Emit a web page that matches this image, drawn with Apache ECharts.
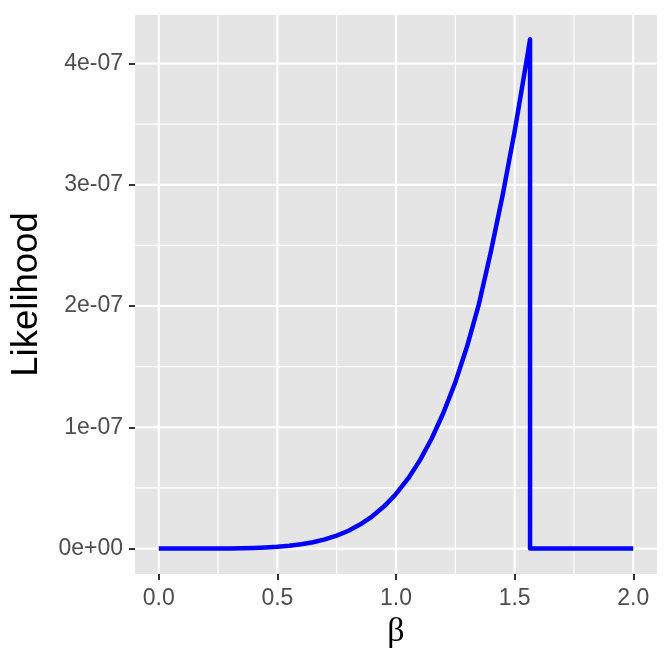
<!DOCTYPE html>
<html>
<head>
<meta charset="utf-8">
<script src="https://cdn.jsdelivr.net/npm/echarts@6/dist/echarts.min.js"></script>
<style>
  html, body { margin: 0; padding: 0; background: #fff; }
  #chart { width: 672px; height: 672px; }
</style>
</head>
<body>
<div id="chart"></div>
<script>
// values (likelihood in absolute units)
const beta = [0, 0.05, 0.1, 0.15, 0.2, 0.25, 0.3, 0.35, 0.4, 0.45, 0.5, 0.55, 0.6, 0.65,
  0.7, 0.75, 0.8, 0.85, 0.9, 0.95, 1.0, 1.05, 1.1, 1.15, 1.2, 1.25, 1.3, 1.35, 1.4,
  1.45, 1.5, 1.55, 1.565, 1.565, 2.0];
const likelihood = [0, 0, 0, 0, 0.0001e-7, 0.0004e-7, 0.0011e-7, 0.0024e-7, 0.0046e-7,
  0.0083e-7, 0.014e-7, 0.023e-7, 0.035e-7, 0.052e-7, 0.076e-7, 0.107e-7, 0.147e-7,
  0.200e-7, 0.266e-7, 0.348e-7, 0.45e-7, 0.574e-7, 0.725e-7, 0.905e-7, 1.12e-7,
  1.37e-7, 1.67e-7, 2.02e-7, 2.45e-7, 2.92e-7, 3.44e-7, 4.02e-7, 4.20e-7, 0, 0];

const xTicks = [0, 0.5, 1.0, 1.5, 2.0];
const xMinor = [0.25, 0.75, 1.25, 1.75];
const yTicks = [0, 1e-7, 2e-7, 3e-7, 4e-7];
const yMinor = [0.5e-7, 1.5e-7, 2.5e-7, 3.5e-7];

const X_MIN = -0.1, X_MAX = 2.1;
const Y_MIN = -0.21e-7, Y_MAX = 4.40e-7;

// panel grid lines as plain two-point line series
const gridSeries = (vals, dir, width) => vals.map(v => ({
  type: 'line',
  silent: true,
  showSymbol: false,
  data: dir === 'x' ? [[v, Y_MIN], [v, Y_MAX]] : [[X_MIN, v], [X_MAX, v]],
  lineStyle: { color: '#ffffff', width: width }
}));

const fmtY = v => {
  if (v === 0) return '0e+00';
  return Math.round(v / 1e-7) + 'e-07';
};

const chart = echarts.init(document.getElementById('chart'), null, { renderer: 'canvas' });
chart.setOption({
  animation: false,
  backgroundColor: '#ffffff',
  textStyle: { fontFamily: 'Liberation Sans' },
  grid: {
    left: 135, right: 15, top: 15, bottom: 98,
    show: true, backgroundColor: '#E5E5E5', borderWidth: 0
  },
  xAxis: {
    type: 'value',
    min: X_MIN, max: X_MAX,
    name: 'β',
    nameLocation: 'middle',
    nameGap: 40,
    nameTextStyle: { fontFamily: 'Liberation Serif', fontSize: 34, color: '#000' },
    axisLine: { show: false, onZero: false },
    splitLine: { show: false },
    axisTick: { show: true, customValues: xTicks, length: 6, lineStyle: { color: '#333333', width: 2 } },
    axisLabel: {
      customValues: xTicks,
      formatter: v => v.toFixed(1),
      color: '#4D4D4D', fontSize: 23, margin: 13
    }
  },
  yAxis: {
    type: 'value',
    min: Y_MIN, max: Y_MAX,
    name: 'Likelihood',
    nameLocation: 'middle',
    nameGap: 90,
    nameTextStyle: { fontSize: 36.5, color: '#000' },
    axisLine: { show: false, onZero: false },
    splitLine: { show: false },
    axisTick: { show: true, customValues: yTicks, length: 6, lineStyle: { color: '#333333', width: 2 } },
    axisLabel: {
      customValues: yTicks,
      formatter: fmtY,
      color: '#4D4D4D', fontSize: 23, margin: 12
    }
  },
  series: [].concat(
    gridSeries(xMinor, 'x', 1.1),
    gridSeries(yMinor, 'y', 1.1),
    gridSeries(xTicks, 'x', 2.2),
    gridSeries(yTicks, 'y', 2.2),
    [{
      type: 'line',
      data: beta.map((b, i) => [b, likelihood[i]]),
      showSymbol: false,
      lineStyle: { color: '#0000FF', width: 4.5, join: 'round' }
    }]
  )
});
</script>
</body>
</html>
